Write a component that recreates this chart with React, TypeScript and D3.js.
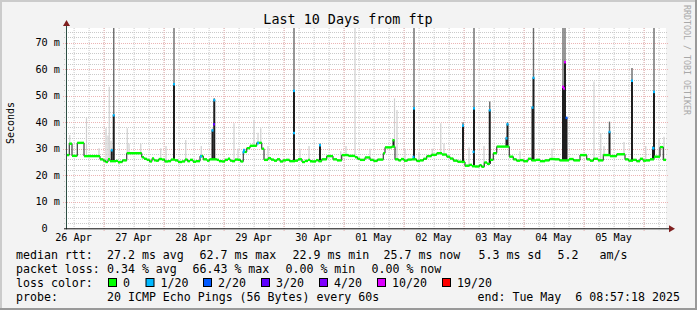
import React from "react";
import * as d3 from "d3";

const W = 697;
const H = 310;
const END = Date.UTC(2025, 4, 6, 8, 57, 18);
const START = END - 10 * 24 * 3600 * 1000;
const YMAX = 75.5;

// median rtt (ms) as steps: [hours since start, value]
const medianSteps: [number, number][] = [
  [0, 27.6], [1.3, 31.9], [2.4, 27.3], [4.5, 32.2], [7.2, 27.2], [13.6, 26.0], [14.9, 25.5],
  [15.8, 25.0], [16.8, 26.0], [17.6, 25.3], [20, 25.4], [20.8, 24.9], [21.6, 25.0], [22.6, 25.6],
  [24.3, 28.3], [30.3, 26.8], [31.2, 26.2], [32.3, 25.8], [33.4, 25.2], [34.4, 26.3], [35.2, 25.6],
  [36, 25.5], [37.1, 26.1], [38.4, 25.9], [39.5, 25.2], [40.8, 25.3], [42, 25.9], [43.6, 25.6],
  [44.8, 25.0], [46.4, 25.2], [47.6, 25.9], [48.6, 25.3], [49.6, 25.8], [50.8, 25.1], [52, 25.3],
  [53.6, 27.2], [54.9, 26.0], [56.4, 25.5], [57.4, 26.0], [60.3, 25.8], [61.2, 25.3], [62.4, 25.2],
  [63.6, 25.8], [64.8, 26.2], [65.6, 25.5], [66.4, 25.3], [67.6, 25.9], [68.8, 25.8], [69.8, 25.2],
  [70.9, 28.8], [72.3, 30.2], [73.6, 31.1], [76.3, 32.2], [78.3, 30.0], [79.2, 25.8], [80.8, 26.4],
  [82.0, 25.9], [83.2, 25.5], [84.4, 26.0], [85.6, 25.2], [86.8, 25.6], [88, 25.8], [89.4, 25.3],
  [91.6, 25.5], [92.8, 26.0], [94.4, 25.0], [95.6, 25.4], [96.8, 25.8], [97.6, 25.3], [98.4, 25.2],
  [100.0, 25.7], [101.0, 25.3], [102.3, 26.0], [104.3, 27.2], [106.8, 26.0], [108.4, 25.6],
  [110.3, 27.6], [113.0, 27.3], [115.6, 26.8], [116.6, 26.2], [117.6, 25.8], [119.6, 26.7],
  [121.6, 25.8], [123.0, 25.4], [124.6, 25.9], [126.9, 28.3], [127.6, 30.5], [130.3, 30.8],
  [131.6, 26.0], [133.0, 25.6], [134.0, 26.1], [135.2, 25.5], [136.6, 25.9], [138.3, 26.0],
  [140.2, 25.4], [141.6, 25.6], [143.0, 26.2], [144.3, 27.2], [146.2, 27.7], [148.3, 28.3],
  [150.4, 27.8], [152.3, 27.0], [153.6, 26.3], [154.9, 25.5], [156.6, 25.1], [158.3, 25.0],
  [159.6, 23.6], [161.4, 23.9], [162.4, 23.4], [163.6, 23.3], [165.4, 23.8], [166.2, 23.2],
  [167.3, 24.8], [168.4, 24.3], [169.6, 25.8], [170.9, 28.3], [172.3, 30.8], [177.3, 27.0],
  [178.9, 26.0], [180.2, 25.5], [181.6, 25.7], [183.0, 25.3], [184.8, 26.2], [186.2, 25.6],
  [188, 25.8], [189.6, 25.3], [191.6, 25.6], [193.4, 26.1], [195.6, 26.0], [197.4, 25.6],
  [201.2, 26.1], [203.0, 25.6], [205.6, 27.6], [208.3, 26.0], [209.6, 25.5], [211, 26.2],
  [212.8, 25.6], [214.9, 27.6], [217.6, 27.2], [220.3, 27.9], [223.6, 26.0], [225.0, 25.5],
  [226.8, 25.8], [228.2, 25.3], [229.6, 26.2], [230.8, 25.5], [232, 25.6], [233.6, 26.0],
  [235.2, 27.0], [237.6, 30.6], [238.9, 25.8],
];

// spikes: [hours, median peak ms, smoke top ms, loss colour index]
const spikes: [number, number, number, number][] = [
  [18.3, 29.5, 30, 1], [19.1, 42.7, 75.5, 1], [43.2, 54.4, 75.5, 1], [58.6, 37.0, 37.5, 1],
  [59.3, 48.4, 49, 1], [71.2, 29.5, 30, 1], [91.2, 51.9, 75.5, 1], [101.6, 31.4, 32, 1],
  [131.0, 33.3, 33.5, 0], [139.2, 45.3, 75.5, 1], [158.8, 38.8, 40, 1], [163.2, 45.3, 75.5, 1],
  [169.5, 44.6, 47.8, 1], [176.2, 34.0, 34.5, 1], [176.6, 39.3, 40, 1], [186.6, 45.6, 46, 1],
  [187.0, 56.8, 75.5, 1], [198.8, 53.4, 75.5, 5], [199.6, 62.7, 75.5, 5], [200.2, 41.7, 42, 2],
  [217.4, 36.4, 40.2, 1], [226.4, 55.7, 60.4, 1], [234.8, 30.3, 31, 1], [235.2, 51.5, 75.5, 1],
];

// extra loss-coloured marks on the median: [hours, ms, loss index]
const lossDots: [number, number, number][] = [
  [59.2, 39.3, 3], [91.2, 36.0, 1], [54.0, 27.2, 1], [71.0, 28.8, 1], [76.8, 32.2, 1],
  [163.0, 28.9, 1], [199.2, 52.8, 5], [235.0, 30.3, 1], [139.0, 27.0, 1],
];

// light smoke (ping spread): [hours, top ms]
const lightSmoke: [number, number][] = [
  [1.5, 35.2], [8.2, 41.5], [13.2, 30.2], [16, 37.7], [16.8, 35], [17.3, 53.4], [18, 33],
  [24.5, 37.7], [25.2, 32], [29.9, 32], [37.9, 30.2], [40, 31], [47.9, 33.3], [54.1, 31],
  [67.2, 39.6], [68.8, 30], [75.2, 40.9], [76.8, 36], [77.9, 37.7], [80.8, 31], [93.6, 30],
  [97.2, 31], [109.9, 29], [112, 31], [115.6, 75.5], [121.6, 30], [131.4, 49], [132.4, 44.6],
  [135.6, 30], [141.2, 28.8], [146.5, 30], [149.9, 39.6], [151.2, 32], [161.2, 30.5],
  [167.2, 31], [181.6, 29], [194.4, 30], [211.2, 55.3], [213.9, 35.8], [215.2, 31],
  [223.2, 32.5], [231.9, 31], [237.2, 33.9], [239.2, 34.5],
];

const yTickValues = [0, 10, 20, 30, 40, 50, 60, 70];
const titleText = "Last 10 Days from ftp";
const yLabel = "Seconds";
const rttStats = ["median rtt:", "27.2 ms avg", "62.7 ms max", "22.9 ms min", "25.7 ms now", "5.3 ms sd", "5.2", "am/s"];
const lossStats = ["packet loss:", "0.34 % avg", "66.43 % max", "0.00 % min", "0.00 % now"];
const lossLabels = ["0", "1/20", "2/20", "3/20", "4/20", "10/20", "19/20"];
const lossColors = ["#00ff00", "#00b8ff", "#0059ff", "#5e00ff", "#7e00ff", "#dd00ff", "#ff0000"];
const probeText = ["probe:", "20 ICMP Echo Pings (56 Bytes) every 60s", "end: Tue May  6 08:57:18 2025"];

const PL = 66, PR = 666, PT = 28, PB = 228.3;
const MONO = "'DejaVu Sans Mono', monospace";

export default function App() {
  const x = d3.scaleUtc().domain([START, END]).range([PL, PR]);
  const y = d3.scaleLinear().domain([0, YMAX]).range([PB, PT]);
  const tx = (h: number) => x(new Date(START + h * 3600e3));
  const medAt = (h: number) => {
    let v = medianSteps[0][1];
    for (const d of medianSteps) if (d[0] <= h) v = d[1];
    return v;
  };

  const days = d3.utcDay.range(new Date(START), new Date(END));
  const sixH = d3.utcHour.every(6)!.range(new Date(START), new Date(END));
  const noons = d3.utcDay
    .range(new Date(START - 86400e3), new Date(END))
    .map((d) => new Date(+d + 12 * 3600e3))
    .filter((d) => +d >= START && +d <= END);
  const fmt = d3.utcFormat("%d %b");
  const minorY = d3.range(2, YMAX, 2).filter((v) => v % 10 !== 0);

  const stepData: [number, number][] = [...medianSteps, [240, medianSteps[medianSteps.length - 1][1]]];
  const stepLine = d3
    .line<[number, number]>()
    .x((d) => tx(d[0]))
    .y((d) => y(d[1]))
    .curve(d3.curveStepAfter);

  const rttX = [16, 107, 199.5, 292.5, 383.5, 478.5, 557.5, 599.5];
  const lossX = [16, 107, 192.5, 285.5, 371.5];
  const boxX = [108, 145.5, 203, 261, 319, 377, 442];
  const probeX = [16, 107, 477.5];

  return (
    <svg width={W} height={H} style={{ display: "block", position: "absolute", left: 0, top: 0 }}>
      <rect x={0} y={0} width={W} height={H} fill="#f3f3f3" />
      <line x1={0} y1={1} x2={W} y2={1} stroke="#cbcbcb" strokeWidth={2} />
      <line x1={1} y1={0} x2={1} y2={H} stroke="#cbcbcb" strokeWidth={2} />
      <line x1={0} y1={H - 1} x2={W} y2={H - 1} stroke="#999" strokeWidth={2} />
      <line x1={W - 1} y1={0} x2={W - 1} y2={H} stroke="#999" strokeWidth={2} />
      <rect x={PL} y={PT} width={PR - PL} height={PB - PT} fill="#ffffff" />

      {/* minor grid */}
      {sixH.map((d, i) => (
        <line key={"vx" + i} x1={x(d) + 0.5} x2={x(d) + 0.5} y1={PT} y2={PB + 2} stroke="#cacaca" strokeDasharray="1,1" />
      ))}
      {minorY.map((v, i) => (
        <line key={"hy" + i} x1={PL - 2} x2={PR + 2} y1={Math.round(y(v)) + 0.5} y2={Math.round(y(v)) + 0.5} stroke="#cacaca" strokeDasharray="1,1" />
      ))}
      {/* major grid */}
      {days.map((d, i) => (
        <line key={"mx" + i} x1={x(d) + 0.5} x2={x(d) + 0.5} y1={PT} y2={PB + 3} stroke="#ecb4b4" strokeDasharray="1,1" />
      ))}
      {yTickValues.slice(1).map((v, i) => (
        <line key={"my" + i} x1={PL - 3} x2={PR + 2} y1={Math.round(y(v)) + 0.5} y2={Math.round(y(v)) + 0.5} stroke="#ecb4b4" strokeDasharray="1,1" />
      ))}

      {/* light smoke */}
      {lightSmoke.map((d, i) => (
        <line key={"ls" + i} x1={tx(d[0])} x2={tx(d[0])} y1={y(d[1])} y2={y(medAt(d[0]))} stroke="#cfcfcf" strokeWidth={1.2} />
      ))}
      {/* spike smoke */}
      {spikes.map((d, i) => (
        <line key={"sg" + i} x1={tx(d[0])} x2={tx(d[0])} y1={y(d[2])} y2={y(d[1])} stroke="#6a6a6a" strokeWidth={1.4} />
      ))}
      {/* spike dark bars */}
      {spikes.map((d, i) => (
        <rect key={"sd" + i} x={tx(d[0]) - 1} width={2} y={y(d[1])} height={y(medAt(d[0])) - y(d[1])} fill="#1e1e1e" />
      ))}

      {/* median */}
      <path d={stepLine(stepData) || ""} fill="none" stroke="#1a1a1a" strokeWidth={1} />
      {medianSteps.map((d, i) => {
        const next = i + 1 < medianSteps.length ? medianSteps[i + 1][0] : 240;
        return (
          <line key={"gm" + i} x1={tx(d[0])} x2={tx(next)} y1={y(d[1])} y2={y(d[1])} stroke={lossColors[0]} strokeWidth={2.4} />
        );
      })}
      {spikes.map((d, i) => (
        <rect key={"sc" + i} x={tx(d[0]) - 1} width={2} y={y(d[1]) - 1} height={2.5} fill={lossColors[d[3]]} />
      ))}
      {lossDots.map((d, i) => (
        <rect key={"ld" + i} x={tx(d[0]) - 1} width={2} y={y(d[1]) - 1} height={2.5} fill={lossColors[d[2]]} />
      ))}

      {/* axes */}
      <line x1={PL + 0.5} x2={PL + 0.5} y1={PB + 1} y2={PT - 6} stroke="#2c4d43" strokeWidth={1} />
      <line x1={PL - 2} x2={PR + 6} y1={PB + 0.5} y2={PB + 0.5} stroke="#111" strokeWidth={1} />
      <path d={`M${PL - 3},${PT - 2} L${PL + 4},${PT - 2} L${PL + 0.5},${PT - 8} Z`} fill="#7f1f1f" />
      <path d={`M${PR + 3},${PB - 3} L${PR + 3},${PB + 4} L${PR + 9},${PB + 0.5} Z`} fill="#7f1f1f" />

      {/* y labels */}
      {yTickValues.map((v, i) => (
        <text key={"yl" + i} x={60} y={y(v) + 3.6} textAnchor="end" fontFamily={MONO} fontSize={10.2} fill="#000" style={{ whiteSpace: "pre" }}>
          {v === 0 ? "0  " : `${v} m`}
        </text>
      ))}
      {/* x labels */}
      {noons.map((d, i) => (
        <text key={"xl" + i} x={x(d)} y={241} textAnchor="middle" fontFamily={MONO} fontSize={10.2} fill="#000">
          {fmt(d)}
        </text>
      ))}

      <text x={348} y={24} textAnchor="middle" fontFamily={MONO} fontSize={13.4} fill="#000">{titleText}</text>
      <text transform="translate(14,123) rotate(-90)" textAnchor="middle" fontFamily={MONO} fontSize={10} fill="#000">{yLabel}</text>
      <text transform="translate(684,5) rotate(90)" fontFamily={MONO} fontSize={8.3} fill="#a8a8a8">RRDTOOL / TOBI OETIKER</text>

      {/* legend */}
      {rttStats.map((s, i) => (
        <text key={"r" + i} x={rttX[i]} y={258.5} fontFamily={MONO} fontSize={11.6} fill="#000" style={{ whiteSpace: "pre" }}>{s}</text>
      ))}
      {lossStats.map((s, i) => (
        <text key={"p" + i} x={lossX[i]} y={272.5} fontFamily={MONO} fontSize={11.6} fill="#000" style={{ whiteSpace: "pre" }}>{s}</text>
      ))}
      <text x={16} y={286.5} fontFamily={MONO} fontSize={11.6} fill="#000">loss color:</text>
      {lossLabels.map((s, i) => (
        <g key={"lc" + i}>
          <rect x={boxX[i] + 0.5} y={278.5} width={8} height={8} fill={lossColors[i]} stroke="#000" strokeWidth={1} />
          <text x={boxX[i] + 15} y={286.5} fontFamily={MONO} fontSize={11.6} fill="#000">{s}</text>
        </g>
      ))}
      {probeText.map((s, i) => (
        <text key={"pr" + i} x={probeX[i]} y={300.5} fontFamily={MONO} fontSize={11.6} fill="#000" style={{ whiteSpace: "pre" }}>{s}</text>
      ))}
    </svg>
  );
}
